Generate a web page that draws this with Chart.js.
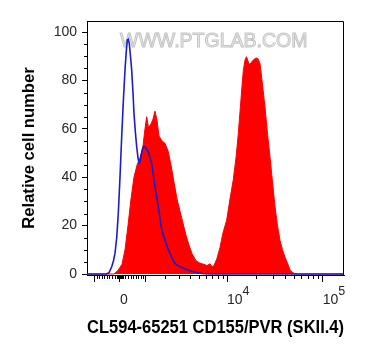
<!DOCTYPE html>
<html>
<head>
<meta charset="utf-8">
<script src="https://cdn.jsdelivr.net/npm/chart.js@4.4.1/dist/chart.umd.min.js"></script>
<style>
  html, body { margin: 0; padding: 0; background: #fff; }
  #wrap { width: 377px; height: 360px; }
</style>
</head>
<body>
<div id="wrap"><canvas id="graficaHistograma"></canvas></div>
<script>
// stained sample (red, filled) - fluorescence value / relative cell number
const sampleX = [-1354, -223, -74, 74, 186, 298, 412, 528, 648, 770, 896, 983, 1058, 1140, 1257, 1354, 1454, 1558, 1665, 1833,
  2010, 2198, 2397, 2609, 2834, 3073, 3329, 3602, 3894, 4205, 4655, 5148, 5688, 6127, 6598, 6930, 7279, 7833, 8430, 9067,
  9921, 10748, 11641, 12427, 13136, 13688, 14261, 14821, 15441, 16010, 16598, 17209, 18058, 18947, 20123, 21116, 22154, 23246,
  24983, 26531, 28172, 29916, 31765, 33732, 35816, 38033, 40383, 42881, 45533, 48933, 52581, 166300];
const sampleY = [0, 0, 1.5, 4, 10, 20, 31, 40, 45, 48, 53, 60, 65, 60.5, 62, 64, 67.3, 63.5, 57, 55,
  54, 51, 45, 38, 31, 26, 21, 16, 12, 8.5, 5.5, 4.5, 4, 3.5, 4.2, 3, 3.5, 6.5, 11, 17,
  22.3, 31, 39, 48, 58, 67, 76, 84, 88.4, 89.8, 88, 86.5, 87.5, 88.5, 89.3, 89, 87, 80,
  69, 58, 48.5, 38, 28, 20, 14, 10, 7, 4.5, 1.8, 0.5, 0, 0];

// control (blue line)
const controlX = [-1354, -528, -412, -309, -242, -186, -122, -63, 0, 63, 122, 186, 234, 272, 309, 347, 393, 439, 489, 528,
  580, 635, 688, 728, 770, 811, 875, 939, 1027, 1131, 1210, 1291, 1369, 1454, 1542, 1627, 1720, 1816, 1909, 2010,
  2166, 2329, 2501, 2682, 2873, 3073, 3329, 3668, 3996, 4347, 4774, 5148, 5831, 7103, 166300];
const controlY = [0, 0, 0.5, 3, 5.5, 8.5, 15, 25, 40, 56.7, 71, 84.3, 92, 96.7, 97, 95.3, 90, 84.3, 75, 66.4,
  59, 52.6, 48, 46, 46.5, 48.5, 51.5, 52.8, 52, 50.5, 48, 45.7, 41, 36, 32, 27.8, 23, 18.5, 16, 14,
  11, 8.5, 6.3, 4.4, 3.6, 3, 2.5, 1.9, 1.4, 1, 0.6, 0.3, 0.1, 0, 0];

const xMajorTicks = [-1000, 0, 1000, 10000, 100000];
const xMinorTicks = [-900, -800, -700, -600, -500, -400, -300, -200, -100,
  -90, -80, -70, -60, -50, -40, -30, -20, -10, 10, 20, 30, 40, 50, 60, 70, 80, 90,
  100, 200, 300, 400, 500, 600, 700, 800, 900,
  2000, 3000, 4000, 5000, 6000, 7000, 8000, 9000,
  20000, 30000, 40000, 50000, 60000, 70000, 80000, 90000];
const xLabelValues = [0, 10000, 100000];
const xLabelBase = ['0', '10', '10'];
const xLabelExp = ['', '4', '5'];

const yTicks = [0, 20, 40, 60, 80, 100];
const yMinorTicks = [5, 10, 15, 25, 30, 35, 45, 50, 55, 65, 70, 75, 85, 90, 95];

const FAMILY = '"Liberation Sans", Arial, sans-serif';
Chart.defaults.font.family = FAMILY;

// biexponential-like display (asinh)
const W = 1545;
function tf(v) { return Math.asinh(v / W); }
function itf(u) { return Math.sinh(u) * W; }

class AsinhScale extends Chart.Scale {
  static id = 'asinh';
  static defaults = {};
  determineDataLimits() {
    this.min = this.options.min;
    this.max = this.options.max;
  }
  buildTicks() {
    return xMajorTicks.map(v => ({ value: v }));
  }
  getLabelForValue(v) { return String(v); }
  configure() {
    super.configure();
    this._lo = tf(this.min);
    this._span = tf(this.max) - this._lo;
  }
  getPixelForValue(v) {
    return this.getPixelForDecimal((tf(v) - this._lo) / this._span);
  }
  getValueForPixel(p) {
    return itf(this._lo + this.getDecimalForPixel(p) * this._span);
  }
}
Chart.register(AsinhScale);

const extras = {
  id: 'extras',
  beforeDatasetsDraw(chart) {
    const ctx = chart.ctx;
    ctx.save();
    ctx.font = '19.5px ' + FAMILY;
    ctx.textAlign = 'left';
    ctx.textBaseline = 'alphabetic';
    ctx.fillStyle = '#f0f0f0';
    ctx.strokeStyle = '#c4c4c4';
    ctx.lineWidth = 1;
    ctx.fillText('WWW.PTGLAB.COM', 120, 46.5);
    ctx.strokeText('WWW.PTGLAB.COM', 120, 46.5);
    ctx.restore();
  },
  afterDraw(chart) {
    const { ctx, chartArea: a, scales: { x, y } } = chart;
    ctx.save();
    ctx.strokeStyle = '#000';
    ctx.lineWidth = 1;
    ctx.beginPath();
    // top and right of the frame
    ctx.moveTo(a.left, a.top + 0.5);
    ctx.lineTo(a.right - 0.5, a.top + 0.5);
    ctx.lineTo(a.right - 0.5, a.bottom);
    xMinorTicks.forEach(v => {
      const p = Math.round(x.getPixelForValue(v)) + 0.5;
      ctx.moveTo(p, a.bottom);
      ctx.lineTo(p, a.bottom + 4);
    });
    yMinorTicks.forEach(v => {
      const p = Math.round(y.getPixelForValue(v)) + 0.5;
      ctx.moveTo(a.left - 3, p);
      ctx.lineTo(a.left, p);
    });
    ctx.stroke();

    ctx.fillStyle = '#262626';
    ctx.textAlign = 'left';
    ctx.textBaseline = 'alphabetic';
    xLabelValues.forEach((v, i) => {
      const px = x.getPixelForValue(v);
      ctx.font = '14px ' + FAMILY;
      ctx.fillText(xLabelBase[i], px, a.bottom + 29);
      if (xLabelExp[i]) {
        const w = ctx.measureText(xLabelBase[i]).width;
        ctx.font = '12.5px ' + FAMILY;
        ctx.fillText(xLabelExp[i], px + w, a.bottom + 20);
      }
    });
    ctx.restore();
  }
};

const ctxHist = document.getElementById('graficaHistograma');
new Chart(ctxHist, {
  type: 'line',
  data: {
    datasets: [{
      label: 'Control',
      data: controlX.map((v, i) => ({ x: v, y: controlY[i] })),
      borderColor: '#1c1cc8',
      borderWidth: 1.6,
      pointRadius: 0,
      fill: false
    }, {
      label: 'CD155/PVR',
      data: sampleX.map((v, i) => ({ x: v, y: sampleY[i] })),
      borderColor: '#ff0000',
      backgroundColor: '#ff0000',
      borderWidth: 1,
      pointRadius: 0,
      fill: 'origin'
    }]
  },
  options: {
    responsive: true,
    maintainAspectRatio: false,
    animation: false,
    layout: { padding: { left: 0, right: 33, top: 21, bottom: 0 } },
    scales: {
      x: {
        type: 'asinh',
        min: -1354,
        max: 166300,
        afterFit: s => { s.height = 85; },
        grid: { drawOnChartArea: false, tickLength: 7, tickColor: '#000' },
        border: { color: '#000' },
        ticks: { display: false },
        title: {
          display: true,
          text: 'CL594-65251 CD155/PVR (SKII.4)',
          color: '#000',
          font: { size: 17.5, weight: 'bold' },
          padding: { top: 0, bottom: 21.5 }
        }
      },
      y: {
        min: -0.4,
        max: 104.55,
        afterBuildTicks: s => { s.ticks = yTicks.map(v => ({ value: v })); },
        afterFit: s => { s.width = 87; },
        grid: { drawOnChartArea: false, tickLength: 5, tickColor: '#000' },
        border: { color: '#000' },
        ticks: { color: '#262626', font: { size: 14 }, padding: 5 },
        title: {
          display: true,
          text: 'Relative cell number',
          color: '#000',
          font: { size: 16.6, weight: 'bold' },
          padding: { top: 19, bottom: 0 }
        }
      }
    },
    plugins: {
      legend: { display: false },
      title: { display: false },
      tooltip: { enabled: false }
    }
  },
  plugins: [extras]
});
</script>
</body>
</html>
